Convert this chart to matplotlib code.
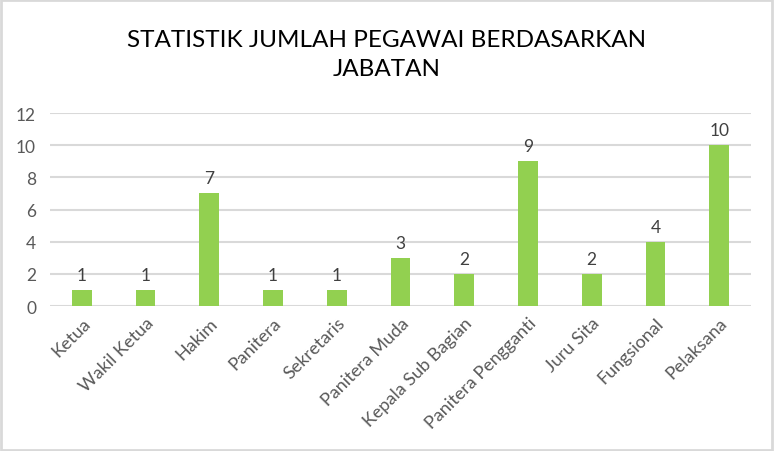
import matplotlib
matplotlib.use("Agg")
import matplotlib.pyplot as plt
from matplotlib.patches import Rectangle

categories = ["Ketua", "Wakil Ketua", "Hakim", "Panitera", "Sekretaris", "Panitera Muda",
              "Kepala Sub Bagian", "Panitera Pengganti", "Juru Sita", "Fungsional", "Pelaksana"]
values = [1, 1, 7, 1, 1, 3, 2, 9, 2, 4, 10]
yticks = [0, 2, 4, 6, 8, 10, 12]
title = "STATISTIK JUMLAH PEGAWAI BERDASARKAN\nJABATAN"

plt.rcParams['font.family'] = ['Lato', 'DejaVu Sans']
gray = "#595959"

fig = plt.figure(figsize=(7.74, 4.52), dpi=100)
ax = fig.add_axes([50/774, 1-307/452, (751-50)/774, (307-114)/452])

x = list(range(len(categories)))
ax.bar(x, values, width=0.31, color="#92D050", zorder=3)
for xi, v in zip(x, values):
    ax.annotate(str(v), (xi, v), xytext=(0, 5), textcoords="offset points",
                ha="center", va="bottom", fontsize=12.5, color="#404040")

ax.set_xlim(-0.5, len(categories) - 0.5)
ax.set_ylim(0, 12)
ax.set_yticks(yticks)
ax.set_yticklabels([str(t) for t in yticks], fontsize=12.5, color=gray)
ax.set_xticks(x)
ax.set_xticklabels(categories, rotation=45, ha="right", va="top", rotation_mode="anchor",
                   fontsize=13, color=gray)
ax.tick_params(axis="y", length=0, pad=10)
ax.tick_params(axis="x", length=0, pad=6)
ax.grid(axis="y", color="#D9D9D9", linewidth=1.5, zorder=0)
for s in ax.spines.values():
    s.set_visible(False)

fig.text(0.5, 1-55/452, title, ha="center", va="center", fontsize=17.5, color="#000000",
         linespacing=1.45)

fig.patches.append(Rectangle((0.001, 0.002), 0.997, 0.996, transform=fig.transFigure,
                             fill=False, edgecolor="#D9D9D9", linewidth=2))

fig.savefig("out.png", dpi=100)
